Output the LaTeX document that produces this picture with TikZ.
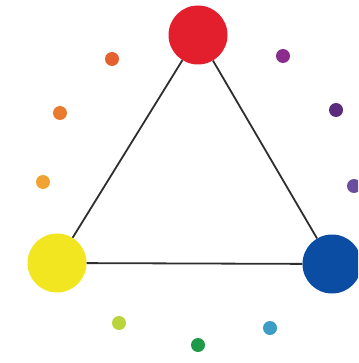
\documentclass[tikz,border=0pt]{standalone}
\usepackage{xcolor}
\usepackage{tikz}
\usetikzlibrary{positioning}

\definecolor{primred}{HTML}{E31E2D}
\definecolor{primyellow}{HTML}{F2E620}
\definecolor{primblue}{HTML}{0B4DA2}
\definecolor{redorange}{HTML}{E4602F}
\definecolor{midorange}{HTML}{E87B2E}
\definecolor{yelorange}{HTML}{F0A232}
\definecolor{redviolet}{HTML}{8B2D8E}
\definecolor{midviolet}{HTML}{5C2B7E}
\definecolor{blueviolet}{HTML}{6A4D9F}
\definecolor{yelgreen}{HTML}{BAD43C}
\definecolor{midgreen}{HTML}{1E9A48}
\definecolor{bluegreen}{HTML}{3C9DC6}

\begin{document}
\begin{tikzpicture}[
  x=1pt, y=-1pt,
  primary/.style={circle, inner sep=0pt, minimum size=59pt},
  dot/.style={circle, inner sep=0pt, minimum size=14pt},
  edge/.style={draw=black!82, line width=1.8pt}
]
\useasboundingbox (0,0) rectangle (358,363);
\clip (0,0) rectangle (358,363);
\node[primary, fill=primred] (red) at (198,35) {};
\node[primary, fill=primyellow] (yellow) at (57,263) {};
\node[primary, fill=primblue] (blue) at (332,264) {};

\node[dot, fill=redorange] (ro) at (112,59) {};
\node[dot, fill=midorange] (o) at (60,113) {};
\node[dot, fill=yelorange] (yo) at (43,182) {};
\node[dot, fill=redviolet] (rv) at (283,56) {};
\node[dot, fill=midviolet] (v) at (336,110) {};
\node[dot, fill=blueviolet] (bv) at (354,186) {};
\node[dot, fill=yelgreen] (yg) at (119,323) {};
\node[dot, fill=midgreen] (g) at (198,345) {};
\node[dot, fill=bluegreen] (bg) at (270,328) {};

\draw[edge] (red) -- (yellow);
\draw[edge] (yellow) -- (blue);
\draw[edge] (blue) -- (red);
\end{tikzpicture}
\end{document}
